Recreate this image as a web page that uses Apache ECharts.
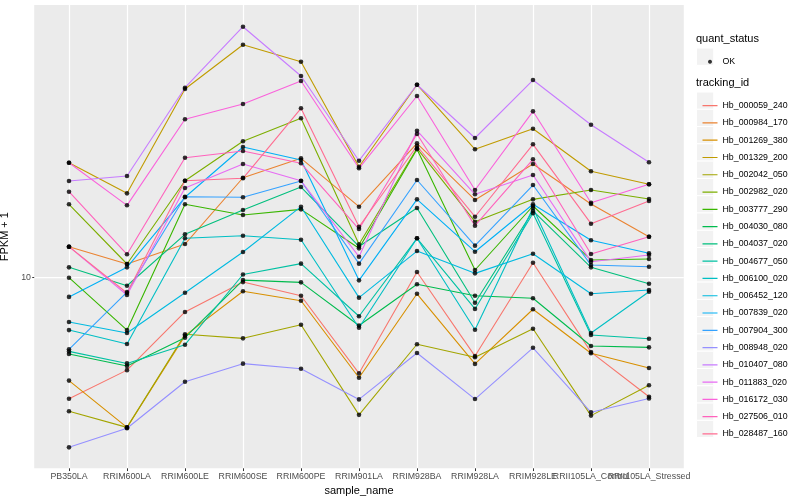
<!DOCTYPE html>
<html><head><meta charset="utf-8">
<script src="https://cdn.jsdelivr.net/npm/echarts@6/dist/echarts.min.js"></script>
<style>html,body{margin:0;padding:0;background:#fff}#c{width:800px;height:500px}</style>
</head><body><div id="c"></div>
<script>
const categories = ["PB350LA","RRIM600LA","RRIM600LE","RRIM600SE","RRIM600PE","RRIM901LA","RRIM928BA","RRIM928LA","RRIM928LE","RRII105LA_Control","RRII105LA_Stressed"];
const trackingIds = ["Hb_000059_240","Hb_000984_170","Hb_001269_380","Hb_001329_200","Hb_002042_050","Hb_002982_020","Hb_003777_290","Hb_004030_080","Hb_004037_020","Hb_004677_050","Hb_006100_020","Hb_006452_120","Hb_007839_020","Hb_007904_300","Hb_008948_020","Hb_010407_080","Hb_011883_020","Hb_016172_030","Hb_027506_010","Hb_028487_160"];
const colors = ["#F8766D","#EA8331","#D89000","#C09B00","#A3A500","#7CAE00","#39B600","#00BB4E","#00BF7D","#00C1A3","#00BFC4","#00BAE0","#00B0F6","#35A2FF","#9590FF","#C77CFF","#E76BF3","#FA62DB","#FF62BC","#FF6C91"];
const yTicks = [10];

const s01 = [3.95, 4.92, 7.69, 9.67, 8.71, 4.80, 10.45, 5.48, 11.22, 5.65, 4.01];
const s02 = [12.69, 11.11, 12.95, 21.54, 25.00, 17.25, 28.06, 18.16, 23.93, 17.61, 13.70];
const s03 = [4.54, 3.17, 6.41, 9.01, 8.38, 4.64, 8.84, 5.16, 7.85, 5.60, 5.00];
const s04 = [24.17, 19.11, 42.56, 59.80, 52.48, 23.44, 43.98, 26.79, 31.38, 22.63, 20.48];
const s05 = [3.59, 3.17, 6.48, 6.28, 6.97, 3.49, 6.00, 5.43, 6.76, 3.47, 4.38];
const s06 = [17.57, 11.11, 21.05, 28.49, 33.99, 12.92, 27.00, 15.37, 18.25, 19.60, 18.30];
const s07 = [10.00, 6.69, 17.57, 16.18, 16.90, 12.53, 26.79, 10.61, 17.34, 11.46, 11.54];
const s08 = [5.57, 5.08, 6.31, 9.82, 9.65, 6.93, 9.51, 8.71, 8.54, 5.92, 5.86];
const s09 = [10.83, 9.40, 13.95, 16.82, 20.06, 12.71, 17.07, 8.25, 16.69, 10.83, 9.55];
const s10 = [5.68, 5.18, 5.98, 10.25, 11.14, 7.44, 13.53, 7.87, 16.40, 6.44, 6.26];
const s11 = [6.69, 6.01, 13.53, 13.80, 13.39, 6.81, 13.53, 6.71, 17.07, 6.54, 8.98];
const s12 = [7.12, 6.54, 8.91, 12.18, 17.25, 8.58, 12.27, 10.34, 12.02, 8.84, 9.10];
const s13 = [8.63, 10.83, 18.54, 27.27, 24.68, 9.80, 18.25, 12.21, 17.57, 13.33, 12.06];
const s14 = [5.77, 8.96, 18.62, 18.54, 21.00, 11.14, 21.17, 12.79, 20.37, 11.02, 10.88];
const s15 = [2.72, 3.15, 4.50, 5.17, 4.97, 3.93, 5.61, 3.94, 5.84, 3.56, 3.96];
const s16 = [21.00, 21.83, 42.99, 68.65, 47.02, 24.55, 43.98, 29.22, 45.60, 32.36, 24.25];
const s17 = [12.69, 8.76, 19.91, 23.93, 21.05, 11.75, 30.90, 18.97, 22.00, 11.31, 11.90];
const s18 = [24.17, 17.43, 33.73, 37.93, 45.26, 23.16, 40.34, 19.60, 35.86, 17.78, 20.48];
const s19 = [19.35, 11.97, 25.12, 26.45, 24.06, 14.53, 30.13, 14.91, 24.81, 12.00, 13.70];
const s20 = [12.69, 8.89, 21.05, 21.45, 36.70, 14.79, 27.48, 15.97, 27.84, 15.14, 18.02];
const seriesValues = [s01,s02,s03,s04,s05,s06,s07,s08,s09,s10,s11,s12,s13,s14,s15,s16,s17,s18,s19,s20];

const FONT = "'Liberation Sans', Arial, Helvetica, sans-serif";
const Y_MIN = 2.316, Y_MAX = 81.1;
const chart = echarts.init(document.getElementById('c'), null, {renderer: 'canvas'});

const lineIcon = 'path://M0,0L0.01,0L0,0.01Z M15,17.28L14.99,17.28L15,17.27Z M0,8.05L15,8.05L15,9.25L0,9.25Z';
const dotIcon = 'path://M0,0L0.01,0L0,0.01Z M15,17.28L14.99,17.28L15,17.27Z M9.5,8.64L9.232,9.64L8.5,10.372L7.5,10.64L6.5,10.372L5.768,9.64L5.5,8.64L5.768,7.64L6.5,6.908L7.5,6.64L8.5,6.908L9.232,7.64Z';

const PANEL = {x: 34.2, y: 5, width: 649.6, height: 463.3};

// horizontal major gridline(s): drawn as a line series on a full-panel grid sharing the y scale
const series = yTicks.map((v, i) => ({
  name: 'grid' + i, type: 'line', xAxisIndex: 1, yAxisIndex: 1,
  data: [[0, v], [1, v]], symbol: 'none', silent: true, z: 1, animation: false,
  lineStyle: {color: '#FFFFFF', width: 1.2}, itemStyle: {color: '#FFFFFF'}
}));

trackingIds.forEach((id, k) => series.push({
  name: id, type: 'line', data: seriesValues[k], color: colors[k],
  symbol: 'none', lineStyle: {width: 1.1, color: colors[k]}, itemStyle: {color: colors[k]},
  z: 2, silent: true, animation: false
}));

const pts = [];
seriesValues.forEach(arr => arr.forEach((v, i) => pts.push([i, v])));
series.push({name: 'OK', type: 'scatter', data: pts, symbol: 'circle', symbolSize: 4.6,
  itemStyle: {color: '#000000'}, z: 5, silent: true, animation: false});

const els = [];
els.push({type: 'rect', id: 'panel', z: -10, shape: PANEL, style: {fill: '#EBEBEB'}});
els.push({type: 'rect', id: 'key_ok', z: -5, shape: {x: 696.5, y: 48.06, width: 17.28, height: 17.28},
  style: {fill: '#F2F2F2', stroke: '#FFFFFF', lineWidth: 1}});
trackingIds.forEach((id, i) => els.push({type: 'rect', id: 'key' + i, z: -5,
  shape: {x: 696.5, y: 92 + i * 17.28, width: 17.28, height: 17.28},
  style: {fill: '#F2F2F2', stroke: '#FFFFFF', lineWidth: 1}}));
els.push({type: 'text', id: 't1', left: 696, top: 33.5, style: {text: 'quant_status', fill: '#000', font: "11px " + FONT}});
els.push({type: 'text', id: 't2', left: 696, top: 77, style: {text: 'tracking_id', fill: '#000', font: "11px " + FONT}});

chart.setOption({
  backgroundColor: '#FFFFFF',
  animation: false,
  textStyle: {fontFamily: FONT},
  grid: [
    {left: 69, right: 151, top: 5, bottom: 31.7, containLabel: false, outerBoundsMode: 'none'},
    {left: PANEL.x, right: 800 - PANEL.x - PANEL.width, top: 5, bottom: 31.7, containLabel: false, outerBoundsMode: 'none'}
  ],
  graphic: [{elements: els}],
  legend: [
    {data: [{name: 'OK', icon: dotIcon}], orient: 'vertical', left: 697.5, top: 48.06,
     itemWidth: 15, itemHeight: 17.28, itemGap: 0, selectedMode: false,
     itemStyle: {borderWidth: 0},
     textStyle: {fontSize: 8.8, color: '#000', fontFamily: FONT}},
    {data: trackingIds.map(n => ({name: n, icon: lineIcon})), orient: 'vertical', left: 697.5, top: 92,
     itemWidth: 15, itemHeight: 17.28, itemGap: 0, selectedMode: false,
     itemStyle: {borderWidth: 0},
     textStyle: {fontSize: 8.8, color: '#000', fontFamily: FONT}}
  ],
  xAxis: [{
    type: 'category', data: categories, boundaryGap: false, gridIndex: 0,
    name: 'sample_name', nameLocation: 'middle', nameGap: 13,
    nameTextStyle: {fontSize: 11, color: '#000', fontFamily: FONT},
    axisLine: {show: false},
    axisTick: {show: true, length: 2.75, alignWithLabel: true, interval: 0, lineStyle: {color: '#333333', width: 1}},
    axisLabel: {interval: 0, margin: 3.5, fontSize: 8.8, color: '#4D4D4D', fontFamily: FONT, hideOverlap: false},
    splitLine: {show: true, interval: 0, lineStyle: {color: '#FFFFFF', width: 1.2}}
  }, {
    type: 'value', gridIndex: 1, min: 0, max: 1, show: false
  }],
  yAxis: [{
    type: 'log', logBase: 10, min: Y_MIN, max: Y_MAX, offset: 34, gridIndex: 0,
    name: 'FPKM + 1', nameLocation: 'middle', nameGap: 16.5, nameRotate: 90,
    nameTextStyle: {fontSize: 11, color: '#000', fontFamily: FONT},
    axisLine: {show: false},
    axisTick: {show: true, length: 2.75, customValues: yTicks, lineStyle: {color: '#333333', width: 1}},
    axisLabel: {margin: 4, fontSize: 8.8, color: '#4D4D4D', fontFamily: FONT, customValues: yTicks,
      formatter: v => (Math.abs(v - 10) < 0.01 ? '10' : '')},
    splitLine: {show: false}
  }, {
    type: 'log', logBase: 10, min: Y_MIN, max: Y_MAX, gridIndex: 1, show: false
  }],
  series: series
});
</script></body></html>
